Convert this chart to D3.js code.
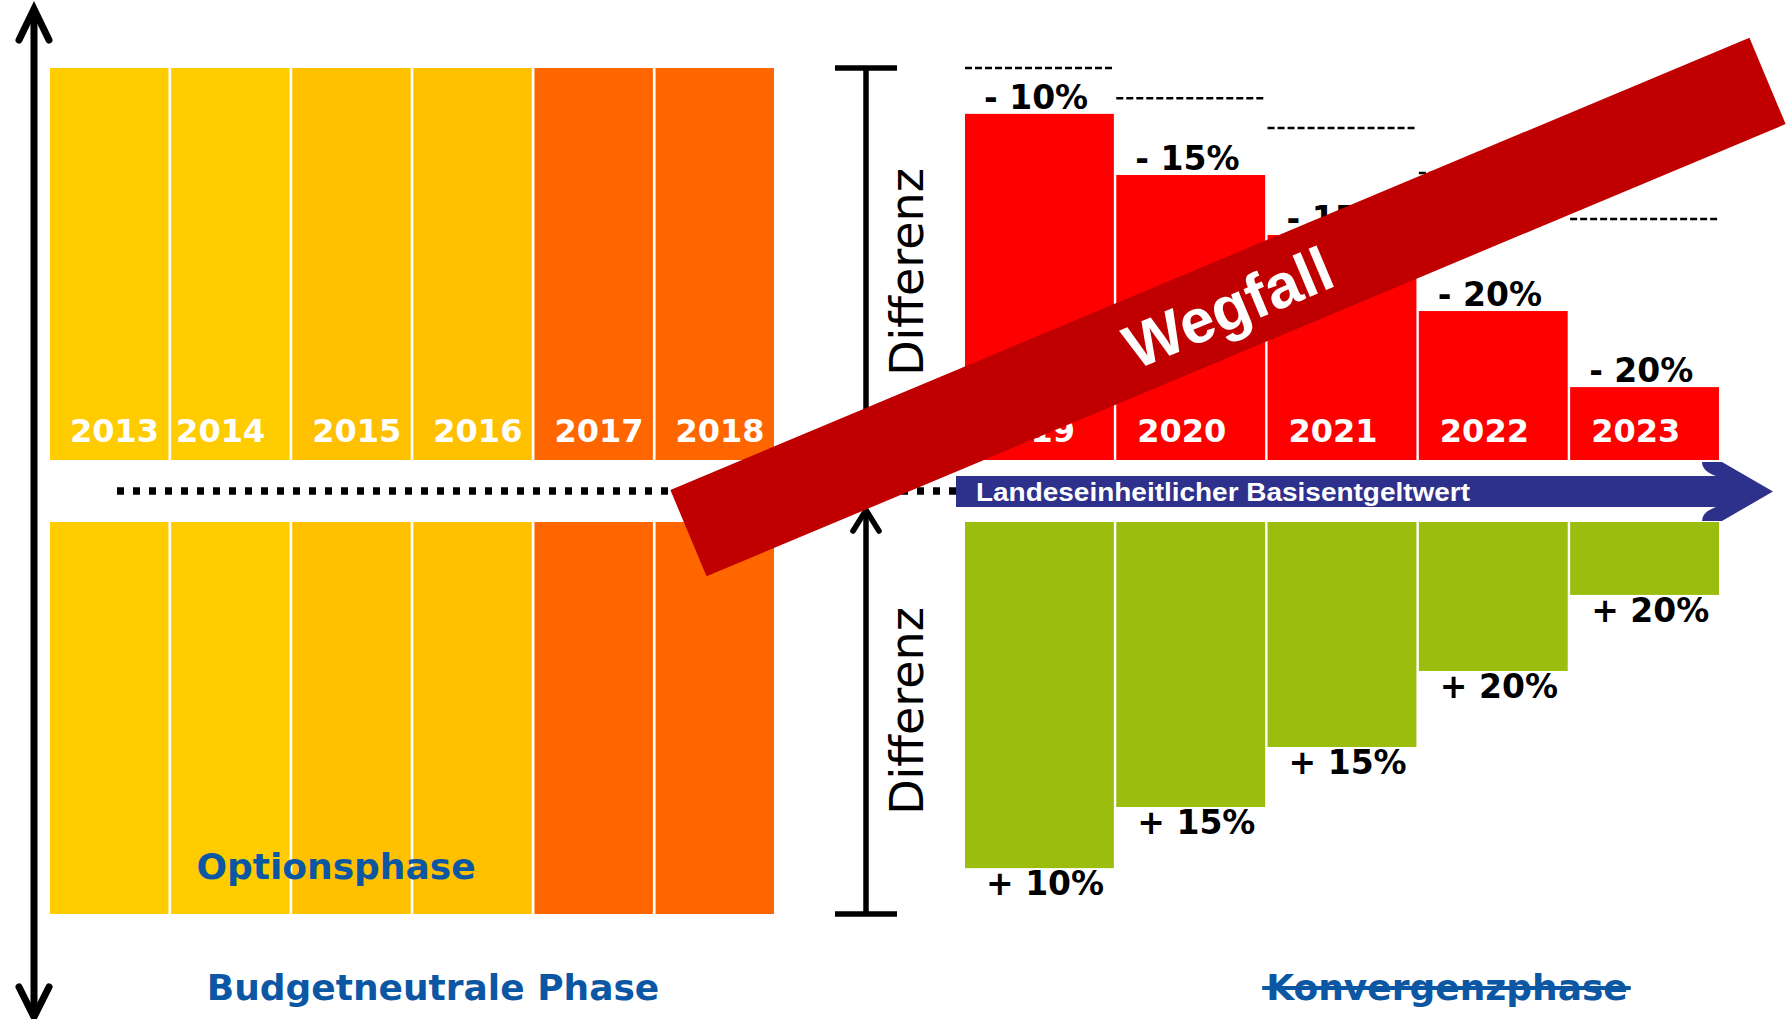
<!DOCTYPE html>
<html lang="de">
<head>
  <meta charset="UTF-8" />
  <title>Budgetneutrale Phase / Konvergenzphase</title>
  <script src="https://d3js.org/d3.v7.min.js"></script>
  <style>
    body {margin: 0; background: #fff;}
    svg {display: block;}
    .year {font-family: "DejaVu Sans", Verdana, sans-serif; font-weight: bold; font-size: 32px; fill: #fff;}
    .pct {font-family: "DejaVu Sans", Verdana, sans-serif; font-weight: bold; font-size: 33px; fill: #000;}
    .phase {font-family: "DejaVu Sans", Verdana, sans-serif; font-weight: bold; font-size: 36px; fill: #0B57A3;}
    .diff {font-family: "DejaVu Sans", Verdana, sans-serif; font-size: 46px; fill: #000;}
  </style>
</head>
<body>
<script>
  // budget-neutral years (full difference kept)
  const leftYears = ["2013", "2014", "2015", "2016", "2017", "2018"];
  const leftLevels = [100, 100, 100, 100, 100, 100];

  // convergence years: remaining difference after each step, and level of the year before
  const rightYears = ["2019", "2020", "2021", "2022", "2023"];
  const remaining = [88.3, 72.7, 57.4, 38.0, 18.6];
  const previousLevel = [100, 92.3, 84.7, 73.2, 61.5];
  const minusLabels = ["- 10%", "- 15%", "- 15%", "- 20%", "- 20%"];
  const plusLabels = ["+ 10%", "+ 15%", "+ 15%", "+ 20%", "+ 20%"];

  const arrowText = "Landeseinheitlicher Basisentgeltwert";

  //****CREATE THE SVG CANVAS****
  const width = 1787;
  const height = 1019;

  const svg = d3.select("body")
                .append("svg")
                .attr("width", width)
                .attr("height", height);

  //****CREATE THE SCALES****
  const xLeft = d3.scaleBand()
                  .domain(leftYears)
                  .range([50, 774])
                  .paddingInner(0.022)
                  .paddingOuter(0);

  const xRight = d3.scaleBand()
                   .domain(rightYears)
                   .range([965, 1719])
                   .paddingInner(0.016)
                   .paddingOuter(0);

  // the difference grows upwards above the base line and downwards below it
  const yUp = d3.scaleLinear().domain([0, 100]).range([460, 68]);
  const yDown = d3.scaleLinear().domain([0, 100]).range([522, 914]);

  const leftColor = d3.scaleOrdinal()
                      .domain(leftYears)
                      .range(["#FFCC00", "#FFCC00", "#FFC000", "#FFC000", "#FF6600", "#FF6600"]);

  const leftData = leftYears.map((y, i) => ({year: y, value: leftLevels[i]}));
  const rightData = rightYears.map((y, i) => ({
    year: y, value: remaining[i], prev: previousLevel[i], minus: minusLabels[i], plus: plusLabels[i]
  }));

  //****LEFT BARS (UPPER AND LOWER)****
  svg.selectAll(".left-up")
     .data(leftData)
     .join("rect")
     .attr("class", "left-up")
     .attr("x", (d) => xLeft(d.year))
     .attr("y", (d) => yUp(d.value))
     .attr("width", xLeft.bandwidth())
     .attr("height", (d) => yUp(0) - yUp(d.value))
     .attr("fill", (d) => leftColor(d.year));

  svg.selectAll(".left-down")
     .data(leftData)
     .join("rect")
     .attr("class", "left-down")
     .attr("x", (d) => xLeft(d.year))
     .attr("y", yDown(0))
     .attr("width", xLeft.bandwidth())
     .attr("height", (d) => yDown(d.value) - yDown(0))
     .attr("fill", (d) => leftColor(d.year));

  svg.selectAll(".left-year")
     .data(leftData)
     .join("text")
     .attr("class", "year")
     .attr("x", (d) => xLeft(d.year) + (d.year === "2014" ? 5 : 20))
     .attr("y", 442)
     .text((d) => d.year);

  svg.append("text")
     .attr("class", "phase")
     .attr("x", 336)
     .attr("y", 879)
     .attr("text-anchor", "middle")
     .text("Optionsphase");

  //****RIGHT BARS****
  svg.selectAll(".right-up")
     .data(rightData)
     .join("rect")
     .attr("class", "right-up")
     .attr("x", (d) => xRight(d.year))
     .attr("y", (d) => yUp(d.value))
     .attr("width", xRight.bandwidth())
     .attr("height", (d) => yUp(0) - yUp(d.value))
     .attr("fill", "#FF0000");

  svg.selectAll(".right-down")
     .data(rightData)
     .join("rect")
     .attr("class", "right-down")
     .attr("x", (d) => xRight(d.year))
     .attr("y", yDown(0))
     .attr("width", xRight.bandwidth())
     .attr("height", (d) => yDown(d.value) - yDown(0))
     .attr("fill", "#9BBE0E");

  // dashed guide = level of the previous year
  svg.selectAll(".prev-line")
     .data(rightData)
     .join("line")
     .attr("class", "prev-line")
     .attr("x1", (d) => xRight(d.year))
     .attr("x2", (d) => xRight(d.year) + xRight.bandwidth())
     .attr("y1", (d) => yUp(d.prev))
     .attr("y2", (d) => yUp(d.prev))
     .attr("stroke", "#000")
     .attr("stroke-width", 2.5)
     .attr("stroke-dasharray", "7 3");

  svg.selectAll(".right-year")
     .data(rightData)
     .join("text")
     .attr("class", "year")
     .attr("x", (d) => xRight(d.year) + 21)
     .attr("y", 442)
     .text((d) => d.year);

  svg.selectAll(".minus")
     .data(rightData)
     .join("text")
     .attr("class", "pct")
     .attr("x", (d) => xRight(d.year) + 19)
     .attr("y", (d) => yUp(d.value) - 5)
     .text((d) => d.minus);

  svg.selectAll(".plus")
     .data(rightData)
     .join("text")
     .attr("class", "pct")
     .attr("x", (d) => xRight(d.year) + 21)
     .attr("y", (d) => yDown(d.value) + 27)
     .text((d) => d.plus);

  //****DOTTED BASE LINE****
  svg.append("line")
     .attr("x1", 117).attr("x2", 957)
     .attr("y1", 491).attr("y2", 491)
     .attr("stroke", "#000")
     .attr("stroke-width", 7.5)
     .attr("stroke-dasharray", "7 9");

  //****LEFT DOUBLE ARROW****
  const axisX = 34;
  svg.append("line")
     .attr("x1", axisX).attr("x2", axisX)
     .attr("y1", 10).attr("y2", 1016)
     .attr("stroke", "#000")
     .attr("stroke-width", 7);

  svg.append("path")
     .attr("d", `M${axisX - 15},40 L${axisX},9 L${axisX + 15},40`)
     .attr("fill", "none")
     .attr("stroke", "#000")
     .attr("stroke-width", 7)
     .attr("stroke-linecap", "round");

  svg.append("path")
     .attr("d", `M${axisX - 15},987 L${axisX},1017 L${axisX + 15},987`)
     .attr("fill", "none")
     .attr("stroke", "#000")
     .attr("stroke-width", 7)
     .attr("stroke-linecap", "round");

  //****DIFFERENZ BRACKET****
  const bx = 866;
  const bracket = svg.append("g")
                     .attr("stroke", "#000")
                     .attr("stroke-width", 5.5)
                     .attr("fill", "none");

  bracket.append("line").attr("x1", bx).attr("x2", bx).attr("y1", yUp(100)).attr("y2", 470);
  bracket.append("line").attr("x1", bx).attr("x2", bx).attr("y1", yDown(100)).attr("y2", 511);
  bracket.append("line").attr("x1", 835).attr("x2", 897).attr("y1", yUp(100)).attr("y2", yUp(100));
  bracket.append("line").attr("x1", 835).attr("x2", 897).attr("y1", yDown(100)).attr("y2", yDown(100));
  bracket.append("path")
         .attr("d", `M${bx - 13},531 L${bx},510 L${bx + 13},531`)
         .attr("stroke-linecap", "round");

  svg.selectAll(".diff")
     .data([(yUp(0) + yUp(100)) / 2 + 8, (yDown(0) + yDown(100)) / 2 - 7])
     .join("text")
     .attr("class", "diff")
     .attr("text-anchor", "middle")
     .attr("transform", (d) => `translate(923, ${d}) rotate(-90)`)
     .text("Differenz");

  //****BLUE BASE ARROW****
  svg.append("path")
     .attr("d", "M956,476 L1716,476 Q1702,471 1702,462 L1722,462 L1773,491.5 L1722,521 L1702,521 Q1702,512 1716,507 L956,507 Z")
     .attr("fill", "#2E318C");

  svg.append("text")
     .attr("x", 976)
     .attr("y", 501)
     .attr("font-family", "'Liberation Sans', Arial, sans-serif")
     .attr("font-weight", "bold")
     .attr("font-size", "26px")
     .attr("fill", "#fff")
     .attr("textLength", 494)
     .attr("lengthAdjust", "spacingAndGlyphs")
     .text(arrowText);

  //****PHASE TITLES****
  svg.append("text")
     .attr("class", "phase")
     .attr("x", 433)
     .attr("y", 1000)
     .attr("text-anchor", "middle")
     .text("Budgetneutrale Phase");

  const konv = svg.append("text")
                  .attr("class", "phase")
                  .attr("x", 1447)
                  .attr("y", 1000)
                  .attr("text-anchor", "middle")
                  .text("Konvergenzphase");

  const kb = konv.node().getBBox();
  svg.append("line")
     .attr("x1", kb.x - 4).attr("x2", kb.x + kb.width + 3)
     .attr("y1", 988).attr("y2", 988)
     .attr("stroke", "#0B57A3")
     .attr("stroke-width", 4);

  //****WEGFALL BAND****
  const band = svg.append("g")
                  .attr("transform", "translate(1228, 307) rotate(-22.74)");

  band.append("rect")
      .attr("x", -585)
      .attr("y", -46.8)
      .attr("width", 1170)
      .attr("height", 93.6)
      .attr("fill", "#C00000");

  band.append("text")
      .attr("text-anchor", "middle")
      .attr("dy", "0.36em")
      .attr("font-family", "'Liberation Sans', Arial, sans-serif")
      .attr("font-weight", "bold")
      .attr("font-size", "62px")
      .attr("fill", "#fff")
      .text("Wegfall");
</script>
</body>
</html>
